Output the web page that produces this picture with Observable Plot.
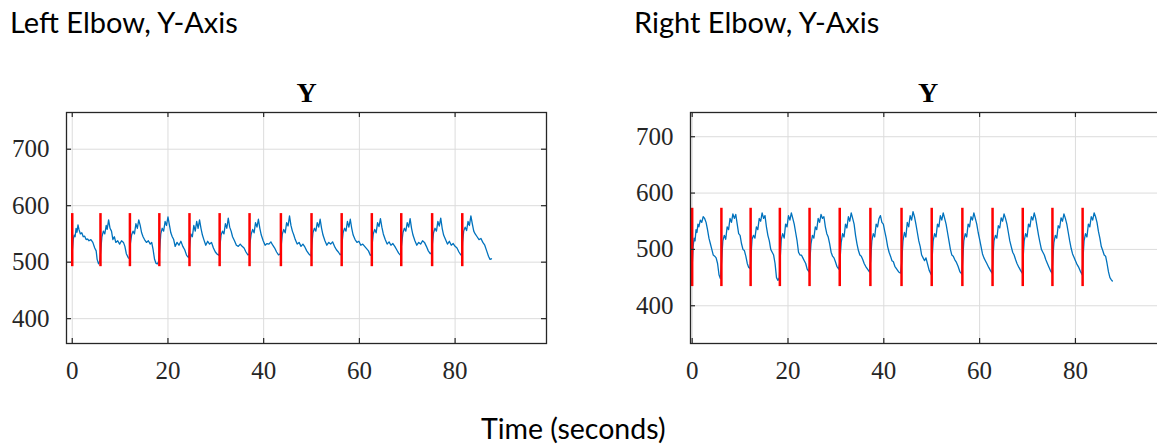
<!DOCTYPE html>
<html><head><meta charset="utf-8">
<script src="https://cdn.jsdelivr.net/npm/d3@7"></script>
<script src="https://cdn.jsdelivr.net/npm/@observablehq/plot@0.6"></script>
<style>
html,body{margin:0;padding:0;background:#fff}
body{width:1157px;height:446px;overflow:hidden;position:relative}
.t{position:absolute;font-family:Lato,"Open Sans",sans-serif;font-size:29px;color:#000;white-space:nowrap;line-height:1.15}
.panel{position:absolute;top:60px;width:620px}
.panel svg{max-width:none !important}
</style></head><body>
<div class="t" style="left:10px;top:5px">Left Elbow, Y-Axis</div>
<div class="t" style="left:634px;top:5px">Right Elbow, Y-Axis</div>
<div class="t" id="xl" style="left:481px;top:412px;font-size:28.5px">Time (seconds)</div>
<div class="panel" id="left" style="left:0px"></div>
<div class="panel" id="right" style="left:600px"></div>
<script>
// ---- data ----
const xTicks = [0, 20, 40, 60, 80];
const yTicks = [400, 500, 600, 700];
const panelTitle = "Y";

const leftCycleStarts = [0, 5.9, 12.05, 18.2, 24.5, 30.8, 37.05, 43.6, 50.0, 56.3, 62.6, 68.75, 75.2, 81.5];
const leftMarkerRange = [492, 586];
const rightCycleStarts = [0, 6.1, 12.2, 18.3, 24.5, 30.8, 37.2, 43.7, 50.0, 56.4, 62.7, 69.0, 75.2, 81.5];
const rightMarkerRange = [434, 573];

const leftSeries = [
[0,518],[0.2,540],[0.4,548],[0.6,545],[0.8,560],[1.0,553],[1.2,566],[1.4,558],[1.7,550],[2.0,552],[2.3,545],[2.6,546],[2.9,540],[3.2,541],[3.5,538],[3.9,540],[4.3,535],[4.7,525],[5.0,520],[5.2,505],[5.5,497],[5.75,502],
[5.95,520],[6.2,545],[6.5,555],[6.8,550],[7.1,565],[7.3,558],[7.6,575],[7.9,560],[8.2,555],[8.5,540],[8.8,545],[9.1,535],[9.5,538],[9.9,532],[10.3,538],[10.7,535],[11.0,528],[11.3,515],[11.7,508],[12.0,506],
[12.1,530],[12.4,548],[12.7,555],[13.0,550],[13.3,568],[13.6,560],[13.9,575],[14.2,565],[14.5,552],[14.8,545],[15.1,540],[15.5,535],[15.9,538],[16.3,532],[16.6,535],[16.9,522],[17.2,505],[17.5,498],[17.8,497],[18.1,502],
[18.25,520],[18.5,550],[18.8,560],[19.1,555],[19.4,572],[19.7,565],[20.0,580],[20.3,566],[20.6,552],[20.9,545],[21.2,540],[21.5,528],[21.9,535],[22.3,530],[22.7,537],[23.1,528],[23.5,522],[23.9,512],[24.3,508],
[24.55,530],[24.8,550],[25.1,545],[25.4,565],[25.7,555],[26.0,572],[26.3,560],[26.6,575],[26.9,560],[27.2,548],[27.5,540],[27.9,530],[28.3,537],[28.7,532],[29.1,535],[29.5,525],[29.9,518],[30.3,514],[30.7,512],
[30.85,528],[31.1,548],[31.4,555],[31.7,550],[32.0,568],[32.3,560],[32.6,578],[32.9,562],[33.2,555],[33.5,545],[33.9,538],[34.3,530],[34.7,528],[35.1,532],[35.5,528],[35.9,525],[36.3,518],[36.7,513],[37.0,514],
[37.1,532],[37.4,550],[37.7,558],[38.0,552],[38.3,570],[38.6,562],[38.9,576],[39.2,560],[39.5,548],[39.9,538],[40.3,530],[40.7,533],[41.1,532],[41.5,536],[41.9,530],[42.3,525],[42.7,518],[43.1,513],[43.5,515],
[43.65,528],[43.9,550],[44.2,558],[44.5,552],[44.8,570],[45.1,564],[45.4,582],[45.7,565],[46.0,555],[46.3,548],[46.6,540],[47.0,532],[47.4,535],[47.8,528],[48.2,532],[48.6,527],[49.0,520],[49.4,515],[49.9,511],
[50.05,530],[50.3,552],[50.6,560],[50.9,555],[51.2,570],[51.5,562],[51.8,576],[52.1,560],[52.4,548],[52.8,538],[53.2,530],[53.6,535],[54.0,532],[54.4,536],[54.8,528],[55.2,522],[55.6,518],[56.0,513],[56.25,515],
[56.35,532],[56.6,552],[56.9,560],[57.2,555],[57.5,572],[57.8,562],[58.1,576],[58.4,560],[58.7,548],[59.1,540],[59.5,535],[59.9,537],[60.3,530],[60.7,532],[61.1,528],[61.5,524],[61.9,520],[62.3,512],[62.55,514],
[62.65,530],[62.9,550],[63.2,558],[63.5,552],[63.8,570],[64.1,563],[64.4,577],[64.7,562],[65.0,550],[65.4,540],[65.8,532],[66.2,536],[66.6,530],[67.0,533],[67.4,528],[67.8,522],[68.2,516],[68.6,512],
[68.8,530],[69.1,552],[69.4,560],[69.7,555],[70.0,570],[70.3,562],[70.6,577],[70.9,560],[71.2,548],[71.6,538],[72.0,530],[72.4,535],[72.8,532],[73.2,538],[73.6,535],[74.0,528],[74.4,520],[74.8,515],[75.1,517],
[75.25,532],[75.5,552],[75.8,560],[76.1,555],[76.4,572],[76.7,564],[77.0,578],[77.3,560],[77.6,548],[78.0,540],[78.4,532],[78.8,537],[79.2,530],[79.6,533],[80.0,528],[80.4,525],[80.8,518],[81.2,513],[81.45,512],
[81.55,535],[81.8,555],[82.1,562],[82.4,556],[82.7,572],[83.0,565],[83.3,582],[83.6,568],[83.9,555],[84.2,550],[84.6,545],[85.0,540],[85.4,542],[85.8,535],[86.2,530],[86.6,520],[87.0,510],[87.3,505],[87.6,506]
];

const rightSeries = [
[0,470],[0.2,505],[0.4,520],[0.6,515],[0.8,535],[1.0,530],[1.2,545],[1.4,540],[1.7,552],[2.0,548],[2.3,558],[2.6,555],[2.9,548],[3.2,535],[3.5,520],[3.8,510],[4.1,500],[4.4,490],[4.7,488],[5.0,485],[5.3,475],[5.6,455],[5.9,448],
[6.15,480],[6.4,515],[6.7,525],[7.0,518],[7.3,540],[7.6,535],[7.9,555],[8.2,548],[8.5,563],[8.8,555],[9.1,562],[9.4,545],[9.7,528],[10.0,525],[10.3,510],[10.6,500],[10.9,498],[11.2,488],[11.5,475],[11.8,468],[12.1,466],
[12.25,485],[12.5,518],[12.8,525],[13.1,520],[13.4,540],[13.7,535],[14.0,555],[14.3,550],[14.6,565],[14.9,555],[15.2,560],[15.5,540],[15.8,525],[16.1,515],[16.4,500],[16.7,495],[17.0,490],[17.3,475],[17.6,450],[17.9,445],[18.2,450],
[18.35,480],[18.6,518],[18.9,528],[19.2,520],[19.5,545],[19.8,540],[20.1,560],[20.4,552],[20.7,565],[21.0,555],[21.3,545],[21.6,530],[21.9,515],[22.2,495],[22.5,490],[22.8,490],[23.1,485],[23.4,480],[23.7,475],[24.0,465],[24.4,460],
[24.55,478],[24.8,510],[25.1,525],[25.4,520],[25.7,540],[26.0,535],[26.3,555],[26.6,548],[26.9,562],[27.2,555],[27.5,558],[27.8,540],[28.1,528],[28.4,522],[28.7,510],[29.0,495],[29.3,488],[29.6,485],[29.9,478],[30.2,470],[30.6,465],
[30.85,480],[31.1,512],[31.4,528],[31.7,522],[32.0,545],[32.3,538],[32.6,558],[32.9,550],[33.2,565],[33.5,555],[33.8,545],[34.1,525],[34.4,510],[34.7,498],[35.0,490],[35.3,488],[35.6,482],[35.9,475],[36.2,470],[36.6,465],[37.0,460],
[37.25,480],[37.5,515],[37.8,528],[38.1,522],[38.4,545],[38.7,540],[39.0,555],[39.3,560],[39.6,548],[39.9,545],[40.2,532],[40.5,520],[40.8,505],[41.1,495],[41.4,488],[41.7,480],[42.0,478],[42.3,470],[42.7,465],[43.1,460],[43.5,458],
[43.75,478],[44.0,515],[44.3,530],[44.6,522],[44.9,548],[45.2,540],[45.5,560],[45.8,552],[46.1,567],[46.4,558],[46.7,545],[47.0,530],[47.3,515],[47.6,505],[47.9,490],[48.2,485],[48.5,480],[48.8,485],[49.1,475],[49.5,462],[49.9,455],
[50.05,478],[50.3,515],[50.6,528],[50.9,522],[51.2,545],[51.5,540],[51.8,560],[52.1,552],[52.4,565],[52.7,555],[53.0,545],[53.3,530],[53.6,515],[53.9,500],[54.2,490],[54.5,488],[54.8,482],[55.1,478],[55.5,470],[55.9,460],[56.3,456],
[56.45,478],[56.7,515],[57.0,528],[57.3,522],[57.6,545],[57.9,540],[58.2,558],[58.5,552],[58.8,565],[59.1,555],[59.4,545],[59.7,530],[60.0,518],[60.3,505],[60.6,492],[60.9,485],[61.2,480],[61.5,475],[61.9,468],[62.3,462],[62.6,458],
[62.75,478],[63.0,515],[63.3,525],[63.6,520],[63.9,542],[64.2,538],[64.5,556],[64.8,550],[65.1,563],[65.4,555],[65.7,545],[66.0,530],[66.3,515],[66.6,505],[66.9,495],[67.2,490],[67.5,482],[67.8,475],[68.2,468],[68.6,462],[68.9,458],
[69.05,480],[69.3,515],[69.6,528],[69.9,522],[70.2,545],[70.5,540],[70.8,558],[71.1,552],[71.4,565],[71.7,555],[72.0,540],[72.3,525],[72.6,512],[72.9,500],[73.2,495],[73.5,490],[73.8,482],[74.1,476],[74.5,468],[74.8,462],[75.1,458],
[75.25,478],[75.5,512],[75.8,525],[76.1,520],[76.4,542],[76.7,538],[77.0,556],[77.3,550],[77.6,563],[77.9,555],[78.2,545],[78.5,530],[78.8,515],[79.1,502],[79.4,492],[79.7,486],[80.0,480],[80.3,474],[80.7,468],[81.1,460],[81.4,455],
[81.55,480],[81.8,515],[82.1,528],[82.4,522],[82.7,545],[83.0,540],[83.3,558],[83.6,552],[83.9,565],[84.2,558],[84.5,548],[84.8,532],[85.1,520],[85.4,505],[85.7,498],[86.0,490],[86.3,488],[86.6,475],[86.9,460],[87.2,450],[87.5,446],[87.7,444]
];

const leftXDomain = [-1.2, 99.1];
const leftYDomain = [356, 765];
const rightXDomain = [-0.35, 98.8];
const rightYDomain = [333, 743];

// ---- drawing ----
function panel({series, starts, range, xDomain, yDomain, marginLeft, boxWidth, marginRight}) {
  const marginTop = 52, marginBottom = 45, boxHeight = 231, tick = 5;
  const data = series.map(([t, v]) => ({t, v}));
  return Plot.plot({
    width: marginLeft + boxWidth + marginRight,
    height: marginTop + boxHeight + marginBottom,
    marginLeft, marginRight, marginTop, marginBottom,
    style: {fontFamily: "'Liberation Serif', 'Times New Roman', serif", fontSize: "25px", color: "#262626", background: "transparent", overflow: "visible"},
    x: {domain: xDomain},
    y: {domain: yDomain},
    marks: [
      Plot.gridX(xTicks, {stroke: "#dcdcdc", strokeOpacity: 1, strokeWidth: 1}),
      Plot.gridY(yTicks, {stroke: "#dcdcdc", strokeOpacity: 1, strokeWidth: 1}),
      Plot.line(data, {x: "t", y: "v", stroke: "#0072BD", strokeWidth: 1.3}),
      Plot.ruleX(starts, {x: d => d, y1: range[0], y2: range[1], stroke: "#FF0000", strokeWidth: 2.5}),
      Plot.tickY(yTicks, {y: d => d, stroke: "#262626", strokeWidth: 1.2, insetRight: boxWidth - tick}),
      Plot.tickY(yTicks, {y: d => d, stroke: "#262626", strokeWidth: 1.2, insetLeft: boxWidth - tick}),
      Plot.tickX(xTicks, {x: d => d, stroke: "#262626", strokeWidth: 1.2, insetTop: boxHeight - tick}),
      Plot.tickX(xTicks, {x: d => d, stroke: "#262626", strokeWidth: 1.2, insetBottom: boxHeight - tick}),
      Plot.frame({stroke: "#262626", strokeWidth: 1.3}),
      Plot.axisX({ticks: xTicks, tickSize: 0, tickPadding: 18, label: null, fontSize: 25}),
      Plot.axisY({ticks: yTicks, tickSize: 0, tickPadding: 17, label: null, fontSize: 25}),
      Plot.text([panelTitle], {frameAnchor: "top", dy: -30, fontWeight: "bold", fontSize: 28, fill: "#000"})
    ]
  });
}

document.getElementById("left").appendChild(panel({
  series: leftSeries, starts: leftCycleStarts, range: leftMarkerRange,
  xDomain: leftXDomain, yDomain: leftYDomain, marginLeft: 66, boxWidth: 480, marginRight: 11
}));
document.getElementById("right").appendChild(panel({
  series: rightSeries, starts: rightCycleStarts, range: rightMarkerRange,
  xDomain: rightXDomain, yDomain: rightYDomain, marginLeft: 90, boxWidth: 475, marginRight: 2
}));
</script>
</body></html>
